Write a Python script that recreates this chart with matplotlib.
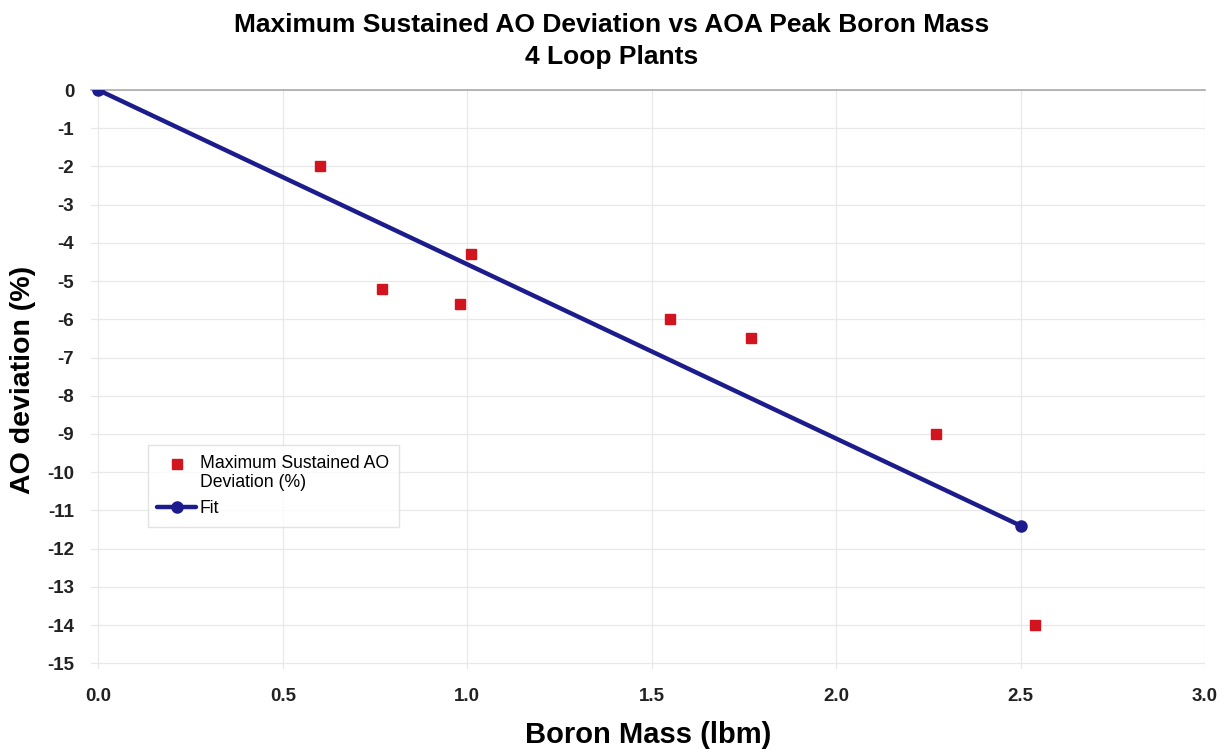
import matplotlib
matplotlib.use("Agg")
import matplotlib.pyplot as plt
from matplotlib.lines import Line2D

plt.rcParams['font.family'] = ['Liberation Sans', 'DejaVu Sans']

boron_mass = [0.60, 0.77, 0.98, 1.01, 1.55, 1.77, 2.27, 2.54]
ao_deviation = [-2.0, -5.2, -5.6, -4.3, -6.0, -6.5, -9.0, -14.0]
fit_x = [0.0, 2.5]
fit_y = [0.0, -11.4]
x_ticks = [0.0, 0.5, 1.0, 1.5, 2.0, 2.5, 3.0]
x_tick_labels = ['0.0', '0.5', '1.0', '1.5', '2.0', '2.5', '3.0']
y_ticks = list(range(0, -16, -1))

fig = plt.figure(figsize=(12.24, 7.49), dpi=100)
ax = fig.add_axes([0.0743, 0.1068, 0.9102, 0.7730])

ax.plot(fit_x, fit_y, color='#1c1c8c', lw=3.2, marker='o', markersize=8,
        label='Fit', zorder=3, solid_capstyle='round')
ax.plot(boron_mass, ao_deviation, linestyle='none', marker='s', markersize=7.5,
        color='#d2141e', label='Maximum Sustained AO\nDeviation (%)', zorder=4)

ax.set_xlim(-0.02, 3.0)
ax.set_ylim(-15.15, 0)
ax.set_xticks(x_ticks)
ax.set_xticklabels(x_tick_labels)
ax.set_yticks(y_ticks)
ax.set_yticklabels([str(v) for v in y_ticks])
ax.tick_params(length=0, labelsize=13.5)
for lab in ax.get_xticklabels() + ax.get_yticklabels():
    lab.set_fontweight('bold')
    lab.set_color('#222222')
ax.tick_params(axis='y', pad=12)
ax.tick_params(axis='x', pad=14)

ax.grid(True, color='#e8e8e8', lw=0.9)
for s in ['left', 'right', 'bottom']:
    ax.spines[s].set_visible(False)
ax.spines['top'].set_color('#aaaaaa')
ax.spines['top'].set_linewidth(1.2)

ax.set_xlabel('Boron Mass (lbm)', fontsize=21, fontweight='bold', labelpad=11)
ax.set_ylabel('AO deviation (%)', fontsize=20.5, fontweight='bold', labelpad=8)

fig.suptitle('Maximum Sustained AO Deviation vs AOA Peak Boron Mass\n4 Loop Plants',
             fontsize=19, fontweight='bold', y=0.982, linespacing=1.4)

handles, labels = ax.get_legend_handles_labels()
leg = ax.legend(handles[::-1], labels[::-1], loc='upper left',
                bbox_to_anchor=(0.051, 0.387), fontsize=12.7, frameon=True,
                fancybox=False, edgecolor='#dddddd', handlelength=2.2,
                borderpad=0.55, labelspacing=0.5, handletextpad=0.2,
                borderaxespad=0)
leg.get_frame().set_linewidth(1.0)
for ln in leg.findobj(Line2D):
    if ln.get_marker() == 's':
        ln.set_ydata([y + 7 for y in ln.get_ydata()])

fig.savefig('out.png', dpi=100, facecolor='white')
